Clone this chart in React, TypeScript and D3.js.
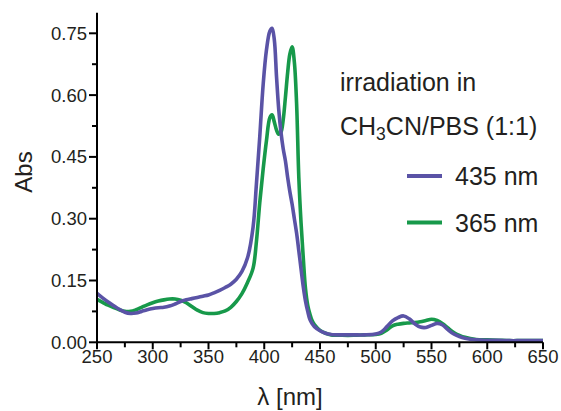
import React from "react";
import * as d3 from "d3";

const wavelengths = [
  250, 255, 260, 265, 270, 275, 280, 285, 290, 295, 300, 305, 310, 315, 320, 325, 330, 335, 340, 345,
  350, 355, 360, 365, 370, 375, 380, 385, 390, 393, 396, 399, 402, 405, 407, 409, 411, 413, 415, 417,
  419, 421, 423, 425, 427, 429, 431, 433, 435, 437, 439, 441, 443, 445, 450, 455, 460, 470, 480, 490,
  500, 505, 510, 515, 520, 525, 530, 535, 540, 545, 550, 555, 560, 565, 570, 575, 580, 590, 600, 610,
  620, 630, 640, 650,
];

const abs435 = [
  0.119, 0.108, 0.098, 0.089, 0.08, 0.073, 0.07, 0.071, 0.075, 0.079, 0.082, 0.084, 0.085, 0.088, 0.093, 0.099, 0.103, 0.106, 0.109, 0.112,
  0.115, 0.12, 0.126, 0.133, 0.141, 0.153, 0.172, 0.205, 0.28, 0.385, 0.5, 0.625, 0.71, 0.755, 0.762, 0.735, 0.645, 0.565, 0.51, 0.47,
  0.44, 0.4, 0.365, 0.335, 0.3, 0.265, 0.222, 0.178, 0.135, 0.1, 0.075, 0.055, 0.045, 0.038, 0.028, 0.022, 0.019, 0.018, 0.018, 0.018,
  0.02, 0.025, 0.038, 0.052, 0.06, 0.064, 0.057, 0.045, 0.037, 0.036, 0.041, 0.046, 0.042, 0.03, 0.02, 0.014, 0.01, 0.006, 0.005, 0.005,
  0.004, 0.004, 0.004, 0.004,
];

const abs365 = [
  0.104, 0.097, 0.09, 0.084, 0.079, 0.075, 0.075, 0.079, 0.085, 0.091, 0.096, 0.1, 0.103, 0.105, 0.105, 0.102, 0.096, 0.087, 0.078, 0.072,
  0.07, 0.07, 0.072, 0.076, 0.085, 0.099, 0.118, 0.145, 0.18, 0.245, 0.34, 0.42, 0.49, 0.545, 0.552, 0.535, 0.515, 0.505, 0.51, 0.54,
  0.595, 0.655, 0.7, 0.717, 0.68, 0.58, 0.4, 0.29, 0.205, 0.13, 0.09, 0.068, 0.052, 0.043, 0.029, 0.022, 0.018, 0.017, 0.017, 0.018,
  0.019, 0.022, 0.03, 0.04, 0.044, 0.046, 0.047, 0.048, 0.05, 0.053, 0.056, 0.053, 0.045, 0.034, 0.024, 0.017, 0.012, 0.007, 0.006, 0.005,
  0.004, 0.004, 0.004, 0.004,
];

const xMajorTicks = [250, 300, 350, 400, 450, 500, 550, 600, 650];
const xMinorTicks = [275, 325, 375, 425, 475, 525, 575, 625];
const yMajorTicks = [0, 0.15, 0.3, 0.45, 0.6, 0.75];
const yMinorTicks = [0.075, 0.225, 0.375, 0.525, 0.675];

const seriesNames = ["435 nm", "365 nm"];
const PURPLE = "#5a53a6";
const GREEN = "#17994a";
const TEXT = "#231f20";
const FONT = "'Liberation Sans', Arial, Helvetica, sans-serif";

export default function App() {
  const x = d3.scaleLinear().domain([250, 650]).range([97, 543]);
  const y = d3.scaleLinear().domain([0, 0.8]).range([342.3, 12.7]);

  const line = d3
    .line<number>()
    .x((_, i) => x(wavelengths[i]))
    .y((d) => y(d))
    .curve(d3.curveCatmullRom.alpha(0.5));

  return (
    <svg
      width={561}
      height={411}
      style={{ position: "absolute", left: 0, top: 0, background: "#fff" }}
      fontFamily={FONT}
    >
      <rect width={561} height={411} fill="#fff" />
      {/* series */}
      <path d={line(abs365) || ""} fill="none" stroke={GREEN} strokeWidth={3.6} strokeLinejoin="round" />
      <path d={line(abs435) || ""} fill="none" stroke={PURPLE} strokeWidth={3.6} strokeLinejoin="round" />

      {/* axes */}
      <line x1={x(250)} x2={x(250)} y1={y(0) + 1} y2={y(0.8)} stroke="#000" strokeWidth={2} />
      <line x1={x(250) - 1} x2={x(650)} y1={y(0)} y2={y(0)} stroke="#000" strokeWidth={2} />
      {yMajorTicks.map((t) => (
        <g key={"ym" + t}>
          <line x1={x(250) - 8} x2={x(250)} y1={y(t)} y2={y(t)} stroke="#000" strokeWidth={2} />
          <text x={x(250) - 10} y={y(t)} dy="0.35em" textAnchor="end" fontSize={18.5} fill={TEXT}>
            {t.toFixed(2)}
          </text>
        </g>
      ))}
      {yMinorTicks.map((t) => (
        <line key={"yn" + t} x1={x(250) - 5} x2={x(250)} y1={y(t)} y2={y(t)} stroke="#000" strokeWidth={2} />
      ))}
      {xMajorTicks.map((t) => (
        <g key={"xm" + t}>
          <line x1={x(t)} x2={x(t)} y1={y(0)} y2={y(0) + 7} stroke="#000" strokeWidth={2} />
          <text x={x(t)} y={362.5} textAnchor="middle" fontSize={18.5} fill={TEXT}>
            {t}
          </text>
        </g>
      ))}
      {xMinorTicks.map((t) => (
        <line key={"xn" + t} x1={x(t)} x2={x(t)} y1={y(0)} y2={y(0) + 5} stroke="#000" strokeWidth={2} />
      ))}

      {/* axis titles */}
      <text x={290} y={405} textAnchor="middle" fontSize={24} fill={TEXT}>
        λ [nm]
      </text>
      <text transform="translate(32,172) rotate(-90)" textAnchor="middle" fontSize={24} fill={TEXT}>
        Abs
      </text>

      {/* legend */}
      <text x={340} y={91} fontSize={25} fill={TEXT}>
        irradiation in
      </text>
      <text x={340} y={135} fontSize={25} fill={TEXT}>
        CH<tspan fontSize={17.5} dy={5}>3</tspan>
        <tspan dy={-5}>CN/PBS (1:1)</tspan>
      </text>
      {[PURPLE, GREEN].map((c, i) => (
        <g key={"lg" + i}>
          <line x1={407} x2={442} y1={176 + i * 46.5} y2={176 + i * 46.5} stroke={c} strokeWidth={4} />
          <text x={455} y={185 + i * 46.5} fontSize={25} fill={TEXT}>
            {seriesNames[i]}
          </text>
        </g>
      ))}
    </svg>
  );
}
